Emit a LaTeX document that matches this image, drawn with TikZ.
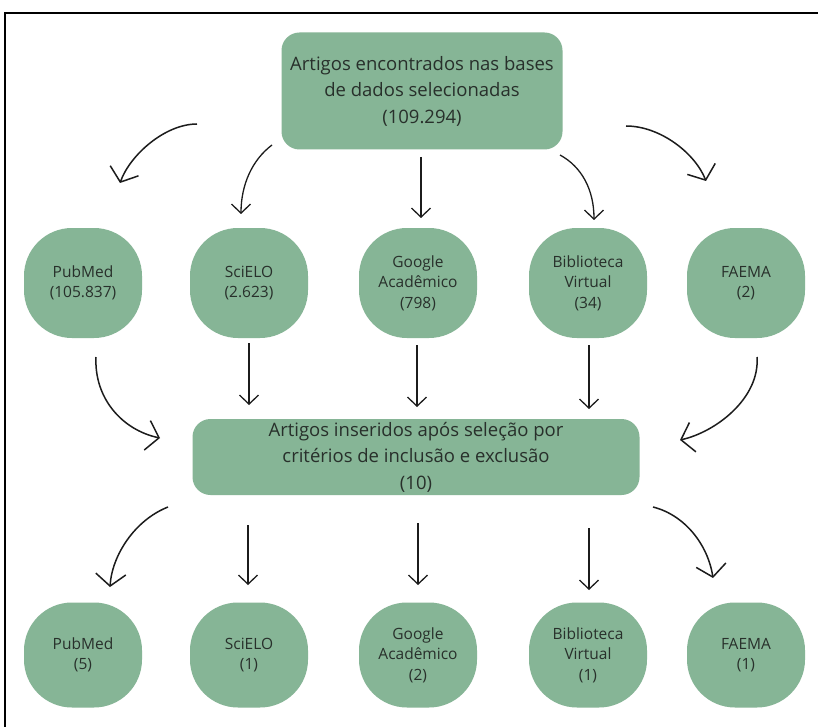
\documentclass[tikz,border=0pt]{standalone}
\usepackage{fontspec}
\setmainfont{Open Sans}
\usetikzlibrary{arrows.meta}
\definecolor{boxgreen}{HTML}{86B596}
\definecolor{txtdark}{HTML}{28302B}
\definecolor{inkline}{HTML}{1C1C1C}
\tikzset{
  bigbox/.style={draw=none, fill=boxgreen, rounded corners=18pt, align=center, text=txtdark,
    font=\fontsize{18.5}{26.5}\selectfont, inner sep=0pt},
  blob/.style={draw=none, fill=boxgreen, rounded corners=48pt, align=center, text=txtdark,
    minimum width=118pt, inner sep=0pt, font=\fontsize{15.5}{20.5}\selectfont},
  smallarrow/.style={draw=inkline, line width=1.3pt, -{Straight Barb[length=9pt,width=19pt,line width=1.3pt]}},
  bigarrow/.style={draw=inkline, line width=1.5pt, -{Straight Barb[length=12pt,width=30pt,line width=1.5pt]}},
}
\begin{document}
\begin{tikzpicture}[x=1pt,y=-1pt]
\fill[white] (0,0) rectangle (818,727);
\useasboundingbox (0,0) rectangle (818,727);
\draw[line width=1.6pt, black] (5,740) -- (5,13) -- (830,13);

% top box
\node[bigbox, minimum width=281pt, minimum height=117pt] (top) at (422,91)
  {Artigos encontrados nas bases\\de dados selecionadas\\(109.294)};

% middle row
\node[blob, minimum height=110pt] (m1) at (83,283) {PubMed\\(105.837)};
\node[blob, minimum height=110pt] (m2) at (249,283) {SciELO\\(2.623)};
\node[blob, minimum height=110pt] (m3) at (418,283) {Google\\Acadêmico\\(798)};
\node[blob, minimum height=110pt] (m4) at (588,283) {Biblioteca\\Virtual\\(34)};
\node[blob, minimum height=110pt] (m5) at (746,283) {FAEMA\\(2)};

% middle box
\node[bigbox, minimum width=447pt, minimum height=76pt] (mid) at (416,457)
  {Artigos inseridos após seleção por\\critérios de inclusão e exclusão\\(10)};

% bottom row
\node[blob, minimum height=105pt] (b1) at (83,655) {PubMed\\(5)};
\node[blob, minimum height=105pt] (b2) at (249,655) {SciELO\\(1)};
\node[blob, minimum height=105pt] (b3) at (418,655) {Google\\Acadêmico\\(2)};
\node[blob, minimum height=105pt] (b4) at (588,655) {Biblioteca\\Virtual\\(1)};
\node[blob, minimum height=105pt] (b5) at (746,655) {FAEMA\\(1)};

% arrow end points
\coordinate (a1s) at (197,124); \coordinate (a1e) at (120,183);
\coordinate (a2s) at (272,145); \coordinate (a2e) at (241,214);
\coordinate (a3s) at (421,157); \coordinate (a3e) at (421,218);
\coordinate (a4s) at (560,155); \coordinate (a4e) at (594,220);
\coordinate (a5s) at (626,126); \coordinate (a5e) at (706,181);

\coordinate (c1s) at (96,357);  \coordinate (c1e) at (160,438);
\coordinate (c2s) at (249,343); \coordinate (c2e) at (249,405);
\coordinate (c3s) at (417,345); \coordinate (c3e) at (417,407);
\coordinate (c4s) at (589,345); \coordinate (c4e) at (589,409);
\coordinate (c5s) at (757,357); \coordinate (c5e) at (680,440);

\coordinate (d1s) at (168,507); \coordinate (d1e) at (110,587);
\coordinate (d2s) at (248,525); \coordinate (d2e) at (248,585);
\coordinate (d3s) at (418,523); \coordinate (d3e) at (418,585);
\coordinate (d4s) at (589,528); \coordinate (d4e) at (589,590);
\coordinate (d5s) at (653,507); \coordinate (d5e) at (713,578);

% top arrows
\draw[bigarrow] (a1s) .. controls (165,124) and (130,155) .. (a1e);
\draw[smallarrow] (a2s) .. controls (252,160) and (241,185) .. (a2e);
\draw[smallarrow] (a3s) -- (a3e);
\draw[smallarrow] (a4s) .. controls (582,167) and (594,190) .. (a4e);
\draw[bigarrow] (a5s) .. controls (660,126) and (695,153) .. (a5e);

% middle arrows
\draw[bigarrow] (c1s) .. controls (94,398) and (122,430) .. (c1e);
\draw[smallarrow] (c2s) -- (c2e);
\draw[smallarrow] (c3s) -- (c3e);
\draw[smallarrow] (c4s) -- (c4e);
\draw[bigarrow] (c5s) .. controls (760,398) and (716,432) .. (c5e);

% bottom arrows
\draw[bigarrow] (d1s) .. controls (135,520) and (112,555) .. (d1e);
\draw[smallarrow] (d2s) -- (d2e);
\draw[smallarrow] (d3s) -- (d3e);
\draw[smallarrow] (d4s) -- (d4e);
\draw[bigarrow] (d5s) .. controls (685,515) and (708,545) .. (d5e);
\end{tikzpicture}
\end{document}
